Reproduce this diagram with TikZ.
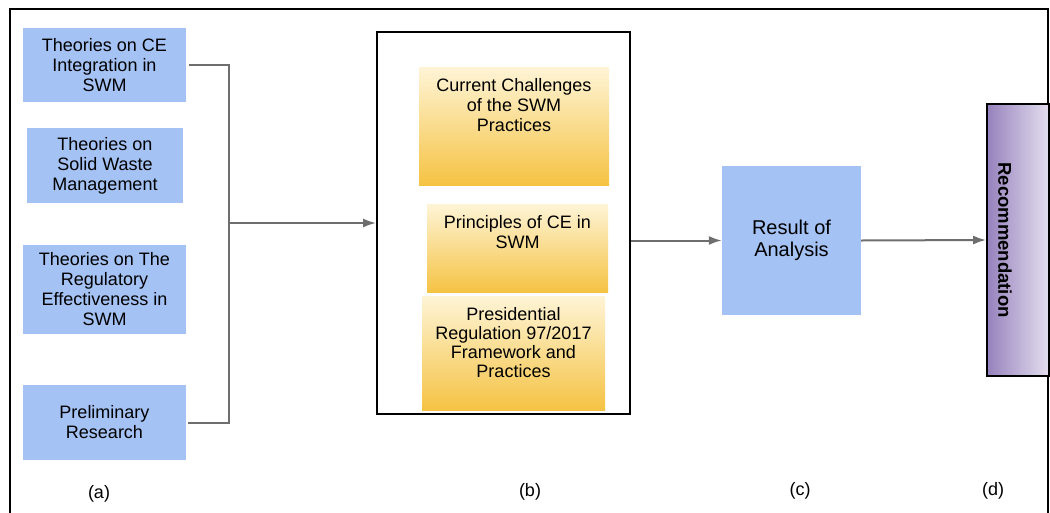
\documentclass[tikz,border=0pt]{standalone}
\usepackage{fontspec}
\setmainfont{Liberation Sans}
\usetikzlibrary{arrows.meta}
\definecolor{boxblue}{HTML}{A4C2F4}
\definecolor{ylight}{HTML}{FEF4D6}
\definecolor{ydark}{HTML}{F5C344}
\definecolor{pdark}{HTML}{9682BD}
\definecolor{plight}{HTML}{E4DFEF}
\definecolor{linegray}{HTML}{6E6E6E}
\tikzset{
  bluebox/.style={fill=boxblue, draw=none, inner sep=0pt, align=center,
    font=\fontsize{18}{20}\selectfont},
  goldbox/.style={top color=ylight, bottom color=ydark, draw=none, inner sep=0pt},
  conn/.style={draw=linegray, line width=2pt},
  arr/.style={conn, -{Latex[length=13pt,width=9pt]}},
  caption/.style={inner sep=0pt, font=\fontsize{18}{20}\selectfont},
}
\newcommand{\goldtext}[3]{\parbox[c][#1][t]{#2}{\centering\vspace*{11pt}#3\par}}
\begin{document}
\begin{tikzpicture}[x=1pt, y=-1pt]
\useasboundingbox (0,0) rectangle (1050,512);
% outer frame
\draw[line width=1.8pt] (10,515) -- (10,9) -- (1048,9) -- (1048,515);

% (a) source boxes
\node[bluebox, minimum width=163pt, minimum height=74pt] (t1) at (104.5,65)
  {Theories on CE\\Integration in\\SWM};
\node[bluebox, minimum width=156pt, minimum height=75pt] (t2) at (105,165.5)
  {Theories on\\Solid Waste\\Management};
\node[bluebox, minimum width=163pt, minimum height=89pt] (t3) at (104.5,289.5)
  {Theories on The\\Regulatory\\Effectiveness in\\SWM};
\node[bluebox, minimum width=163pt, minimum height=75pt] (t4) at (104.5,422.5)
  {Preliminary\\Research};

% (b) analysis frame with its three topics
\node[draw, line width=1.8pt, fill=white, minimum width=253pt, minimum height=382pt,
  inner sep=0pt] (b) at (503.5,223) {};
\node[goldbox, font=\fontsize{18}{20}\selectfont] (y1) at (514,126)
  {\goldtext{118pt}{190pt}{Current Challenges\\of the SWM\\Practices}};
\node[goldbox, font=\fontsize{18}{20}\selectfont] (y2) at (517.5,248)
  {\goldtext{88pt}{181pt}{Principles of CE in\\SWM}};
\node[goldbox, font=\fontsize{18}{19.3}\selectfont] (y3) at (513.5,353)
  {\goldtext{114pt}{183pt}{Presidential\\Regulation 97/2017\\Framework and\\Practices}};

% (c) result
\node[bluebox, minimum width=139pt, minimum height=149pt,
  font=\fontsize{20}{22}\selectfont] (res) at (791.5,240.5) {Result of\\Analysis};

% (d) recommendation, its title running top to bottom
\node[draw, line width=1.8pt, left color=pdark, right color=plight,
  minimum width=62pt, minimum height=272pt, inner sep=0pt] (rec) at (1018,240) {};
\node[rotate=-90, inner sep=0pt, font=\bfseries\fontsize{18.5}{20}\selectfont]
  (rectitle) at ([xshift=-13pt]rec.center) {Recommendation};

% connectors
\coordinate (bus) at (229,223);
\draw[conn] ([xshift=3pt]t1.east) -| (bus) |- ([xshift=2pt]t4.east);
\draw[arr] (bus) -- (b.west);
\draw[arr] (b.east |- res.west) -- (res.west);
\draw[arr] (res.east) -- (rec.west);

% column captions
\node[caption] (la) at (99,494) {(a)};
\node[caption] (lb) at (530,492) {(b)};
\node[caption] (lc) at (800,491) {(c)};
\node[caption] (ld) at (993,491) {(d)};
\end{tikzpicture}
\end{document}
